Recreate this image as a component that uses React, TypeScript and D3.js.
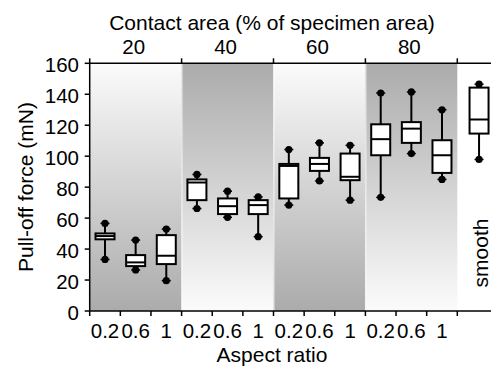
import React from "react";
import * as d3 from "d3";

const contactAreas = ["20", "40", "60", "80"];
const aspectRatios = ["0.2", "0.6", "1"];
const yTicks = [0, 20, 40, 60, 80, 100, 120, 140, 160];

// box statistics per specimen: [lower whisker, q1, median, q3, upper whisker]
const boxLabels = [
  "20-0.2", "20-0.6", "20-1",
  "40-0.2", "40-0.6", "40-1",
  "60-0.2", "60-0.6", "60-1",
  "80-0.2", "80-0.6", "80-1",
  "smooth",
];
const whiskerLow = [33.3, 26.5, 19.6, 66.2, 60.5, 48, 68.4, 84, 71.6, 73.4, 101.7, 85, 97.9];
const q1 = [46.3, 29, 30.3, 71.6, 62.6, 62.6, 72.7, 90.5, 84.5, 100.6, 108.6, 89.2, 114.6];
const medians = [48.4, 31.4, 35.7, 83, 67.7, 68.4, 93.7, 95, 86.7, 111, 117.8, 100.6, 123.7];
const q3 = [50.1, 36.1, 49, 85, 72.7, 71.6, 95, 98.9, 101.7, 120.6, 122, 110.3, 144.3];
const whiskerHigh = [56.6, 45.8, 52.9, 88.2, 77.4, 73.7, 104.3, 108.6, 107, 140.8, 141.5, 130, 146.5];

const W = 491;
const H = 366;
const left = 89.7;
const top = 63.3;
const bottom = 311;
const FONT = "'Liberation Sans', Arial, Helvetica, sans-serif";
const GRAY = "#ababab";

export default function App() {
  const y = d3.scaleLinear().domain([0, 160]).range([bottom, top]);
  const xs = d3.scaleLinear().domain([0, 12]).range([left, 457.3]);
  const nSlots = contactAreas.length * aspectRatios.length;
  const smoothPos = 12.71;
  const pos = (i: number) => (i < nSlots ? xs(i + 0.5) : xs(smoothPos));
  const bw = 19;
  const rightEdge = W + 2;

  return (
    <svg width={W} height={H} style={{ position: "absolute", left: 0, top: 0, background: "#fff" }} fontFamily={FONT}>
      <defs>
        <linearGradient id="wg" x1="0" y1="0" x2="0" y2="1">
          <stop offset="0%" stopColor="#fbfbfb" />
          <stop offset="100%" stopColor={GRAY} />
        </linearGradient>
        <linearGradient id="gw" x1="0" y1="0" x2="0" y2="1">
          <stop offset="0%" stopColor={GRAY} />
          <stop offset="100%" stopColor="#fbfbfb" />
        </linearGradient>
      </defs>
      {contactAreas.map((c, p) => (
        <rect
          key={"bg" + c}
          x={xs(p * 3)}
          y={top}
          width={xs(p * 3 + 3) - xs(p * 3)}
          height={bottom - top}
          fill={p % 2 === 0 ? "url(#wg)" : "url(#gw)"}
        />
      ))}
      {/* soft panel edges */}
      {d3.range(1, 4).map((p) => (
        <rect key={"edge" + p} x={xs(p * 3) - 0.5} y={top} width={2} height={bottom - top} fill="#ffffff" opacity={0.35} />
      ))}

      {/* boxes */}
      {boxLabels.map((lab, i) => {
        const cx = pos(i);
        const capY = [whiskerHigh[i], whiskerLow[i]];
        return (
          <g key={lab}>
            <line x1={cx} x2={cx} y1={y(whiskerHigh[i])} y2={y(whiskerLow[i])} stroke="#000" strokeWidth={2} />
            {capY.map((v, k) => (
              <g key={k}>
                <line x1={cx - 4.5} x2={cx + 4.5} y1={y(v)} y2={y(v)} stroke="#000" strokeWidth={1.5} />
                <circle cx={cx} cy={y(v)} r={3.6} fill="#000" />
              </g>
            ))}
            <rect x={cx - bw / 2} y={y(q3[i])} width={bw} height={y(q1[i]) - y(q3[i])} fill="#fff" stroke="#000" strokeWidth={2} />
            <line x1={cx - bw / 2} x2={cx + bw / 2} y1={y(medians[i])} y2={y(medians[i])} stroke="#000" strokeWidth={2} />
          </g>
        );
      })}

      {/* axes */}
      <line x1={left} x2={left} y1={top} y2={bottom} stroke="#000" strokeWidth={1.5} />
      <line x1={left} x2={rightEdge} y1={top} y2={top} stroke="#000" strokeWidth={1.5} />
      <line x1={left} x2={rightEdge} y1={bottom} y2={bottom} stroke="#000" strokeWidth={1.5} />

      {yTicks.map((t) => (
        <g key={"yt" + t}>
          <line x1={left - 5} x2={left} y1={y(t)} y2={y(t)} stroke="#000" strokeWidth={1.5} />
          <text x={79} y={y(t) + 1} textAnchor="end" dominantBaseline="central" fontSize={20.5} fill="#000">
            {t}
          </text>
        </g>
      ))}

      {d3.range(0, 5).map((p) => (
        <line key={"tt" + p} x1={xs(p * 3)} x2={xs(p * 3)} y1={top - 5} y2={top} stroke="#000" strokeWidth={1.5} />
      ))}
      {contactAreas.map((c, p) => (
        <text key={"tl" + c} x={(xs(p * 3) + xs(p * 3 + 3)) / 2 - 2} y={53.5} textAnchor="middle" fontSize={20.5} fill="#000">
          {c}
        </text>
      ))}

      {d3.range(0, 13).map((s) => (
        <line key={"bt" + s} x1={xs(s)} x2={xs(s)} y1={bottom} y2={bottom + 5} stroke="#000" strokeWidth={1.5} />
      ))}
      {contactAreas.map((c, p) =>
        aspectRatios.map((a, k) => (
          <text key={"bl" + c + a} x={xs(p * 3 + k + 0.5)} y={338} textAnchor="middle" fontSize={20.5} fill="#000">
            {a}
          </text>
        ))
      )}

      <text x={272} y={29.5} textAnchor="middle" fontSize={21} fill="#000">
        Contact area (% of specimen area)
      </text>
      <text x={272} y={361.5} textAnchor="middle" fontSize={21} fill="#000">
        Aspect ratio
      </text>
      <text transform={`translate(33.3,187) rotate(-90)`} textAnchor="middle" fontSize={21} fill="#000">
        Pull-off force (mN)
      </text>
      <text transform={`translate(488.3,253) rotate(-90)`} textAnchor="middle" fontSize={21} fill="#000">
        smooth
      </text>
    </svg>
  );
}
